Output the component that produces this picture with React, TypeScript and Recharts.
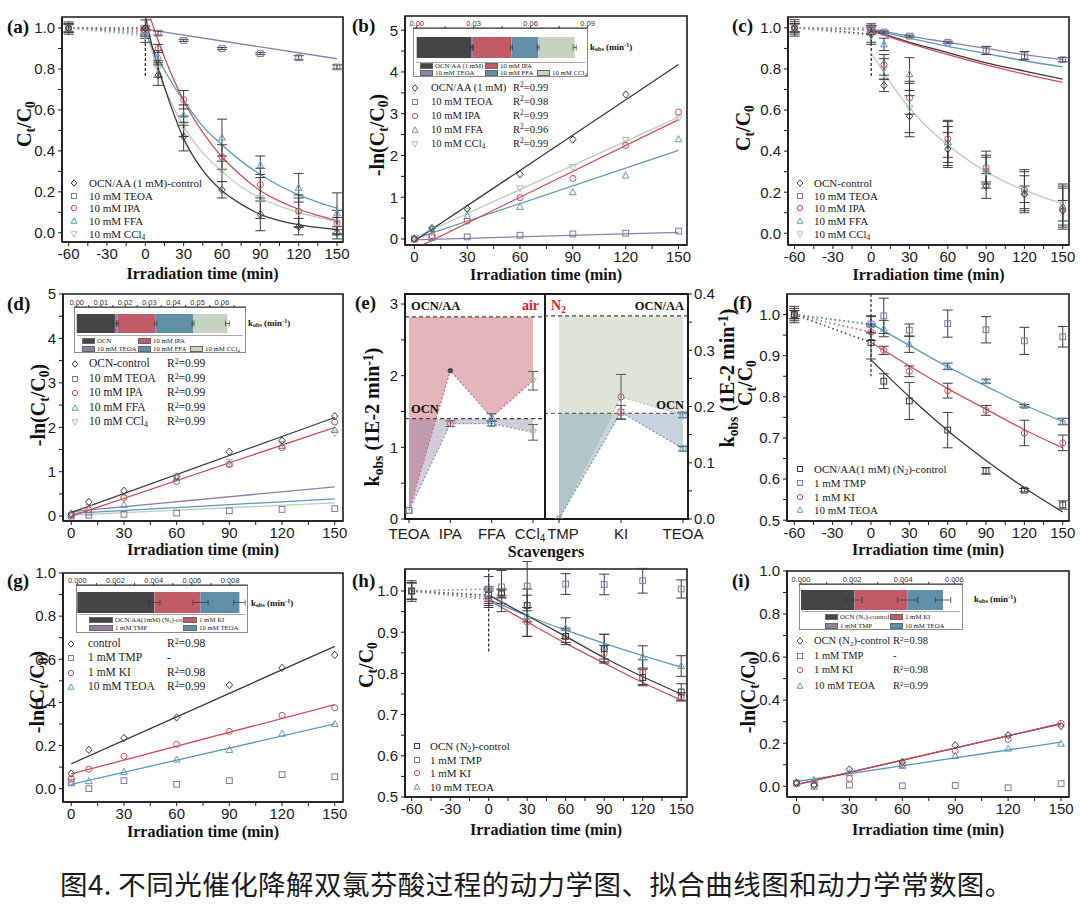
import React from 'react';
import {
  ComposedChart, Line, Scatter, XAxis, YAxis, ErrorBar, ReferenceArea,
  ReferenceLine, Area, BarChart, Bar,
} from 'recharts';

const SERIF = "'Liberation Serif','Times New Roman',serif";
const SANS = "'Liberation Sans',Arial,sans-serif";

// colours
const K = '#3a3a3a';
const PU = '#7f76a6';
const RD = '#cf4d5a';
const BL = '#5d98c0';
const GN = '#a9c2a5';
const ERR = '#3c3c3c';

// ---------- shared axis values ----------
const tFull = [-60, 0, 10, 30, 60, 90, 120, 150];
const tLin = [0, 10, 30, 60, 90, 120, 150];
const xTicksFull = [-60, -45, -30, -15, 0, 15, 30, 45, 60, 75, 90, 105, 120, 135, 150];
const xMajorFull = [-60, -30, 0, 30, 60, 90, 120, 150];
const xTicksLin = [0, 15, 30, 45, 60, 75, 90, 105, 120, 135, 150];
const xMajorLin = [0, 30, 60, 90, 120, 150];
const yTicksUnit = [0, 0.1, 0.2, 0.3, 0.4, 0.5, 0.6, 0.7, 0.8, 0.9, 1.0];
const yMajorUnit = [0, 0.2, 0.4, 0.6, 0.8, 1.0];
const yTicksHalf = [0.5, 0.55, 0.6, 0.65, 0.7, 0.75, 0.8, 0.85, 0.9, 0.95, 1.0];
const yMajorHalf = [0.5, 0.6, 0.7, 0.8, 0.9, 1.0];
const yTicksFive = [0, 0.5, 1, 1.5, 2, 2.5, 3, 3.5, 4, 4.5, 5];
const yMajorFive = [0, 1, 2, 3, 4, 5];
const linT = [0, 150];
const fit6T = [0, 30, 60, 90, 120, 150];

// ---------- panel (a) ----------
const aCtrl = [1.0, 1.0, 0.77, 0.47, 0.21, 0.09, 0.03, 0.0];
const aCtrlE = [0.03, 0.04, 0.05, 0.07, 0.04, 0.08, 0.04, 0.03];
const aTeoa = [1.0, 0.98, 0.975, 0.94, 0.9, 0.875, 0.855, 0.81];
const aTeoaE = [0.02, 0.02, 0.01, 0.005, 0.005, 0.005, 0.01, 0.01];
const aIpa = [1.0, 0.99, 0.9, 0.65, 0.37, 0.235, 0.105, 0.045];
const aIpaE = [0.02, 0.02, 0.02, 0.045, 0.06, 0.08, 0.08, 0.03];
const aFfa = [1.0, 0.97, 0.86, 0.575, 0.465, 0.33, 0.22, 0.095];
const aFfaE = [0.02, 0.02, 0.03, 0.05, 0.09, 0.045, 0.07, 0.1];
const aCcl = [1.0, 0.96, 0.8, 0.52, 0.3, 0.17, 0.1, 0.05];
const aCclE = [0.02, 0.03, 0.04, 0.05, 0.05, 0.1, 0.07, 0.06];
const aFitT = [0, 5, 10, 20, 30, 45, 60, 75, 90, 105, 120, 135, 150];
const aFitCtrl = [1.06, 0.92, 0.81, 0.62, 0.46, 0.305, 0.205, 0.14, 0.09, 0.06, 0.04, 0.026, 0.016];
const aFitIpa = [1.13, 1.03, 0.94, 0.78, 0.645, 0.49, 0.37, 0.28, 0.205, 0.155, 0.115, 0.085, 0.058];
const aFitFfa = [0.98, 0.91, 0.85, 0.74, 0.645, 0.52, 0.43, 0.35, 0.285, 0.23, 0.185, 0.15, 0.12];
const aFitCcl = [1.0, 0.89, 0.79, 0.64, 0.52, 0.39, 0.3, 0.225, 0.17, 0.13, 0.1, 0.075, 0.055];
const aFitTeoa = [0.995, 0.85];
const aVline = [1.0, 0.76];

// ---------- panel (b) ----------
const bCtrl = [0.0, 0.26, 0.73, 1.55, 2.38, 3.46];
const bTeoa = [0.0, 0.03, 0.05, 0.09, 0.12, 0.14, 0.19];
const bIpa = [0.0, 0.08, 0.43, 0.99, 1.45, 2.24, 3.04];
const bFfa = [0.0, 0.24, 0.55, 0.77, 1.12, 1.52, 2.39];
const bCcl = [0.03, 0.22, 0.67, 1.21, 1.72, 2.37, 2.89];
const bFitCtrl = [-0.05, 4.18];
const bFitTeoa = [-0.02, 0.16];
const bFitIpa = [-0.24, 2.86];
const bFitFfa = [0.0, 2.12];
const bFitCcl = [0.03, 2.92];
const bK = [0.0286, 0.001, 0.0203, 0.014, 0.0193];
const bKErr = [0.0006, 0.0003, 0.0005, 0.0005, 0.0008];
const bKTicks = [0, 0.015, 0.03, 0.045, 0.06, 0.075, 0.09];
const bKMajor = [0, 0.03, 0.06, 0.09];

// ---------- panel (c) ----------
const cCtrl = [1.0, 0.97, 0.72, 0.57, 0.41, 0.23, 0.19, 0.11];
const cCtrlE = [0.03, 0.04, 0.03, 0.1, 0.08, 0.06, 0.04, 0.05];
const cTeoa = [1.0, 1.0, 0.98, 0.96, 0.93, 0.89, 0.865, 0.845];
const cTeoaE = [0.04, 0.02, 0.005, 0.005, 0.005, 0.02, 0.02, 0.01];
const cIpa = [1.0, 0.99, 0.82, 0.66, 0.46, 0.32, 0.21, 0.12];
const cIpaE = [0.02, 0.02, 0.05, 0.08, 0.09, 0.08, 0.1, 0.1];
const cFfa = [1.0, 0.99, 0.92, 0.775, 0.445, 0.31, 0.2, 0.13];
const cFfaE = [0.02, 0.02, 0.03, 0.08, 0.1, 0.06, 0.08, 0.1];
const cCcl = [1.0, 0.96, 0.8, 0.61, 0.42, 0.3, 0.2, 0.14];
const cCclE = [0.02, 0.04, 0.05, 0.12, 0.1, 0.08, 0.1, 0.1];
const cFitCtrl = [0.99, 0.93, 0.88, 0.83, 0.79, 0.75];
const cFitIpa = [0.985, 0.925, 0.87, 0.82, 0.775, 0.735];
const cFitFfa = [0.99, 0.95, 0.91, 0.875, 0.84, 0.81];
const cFitTeoa = [0.995, 0.96, 0.93, 0.9, 0.87, 0.845];
const cFitCclT = [0, 10, 20, 30, 45, 60, 75, 90, 105, 120, 135, 150];
const cFitCcl = [0.88, 0.78, 0.69, 0.61, 0.51, 0.43, 0.36, 0.3, 0.25, 0.21, 0.175, 0.145];
const cVline = [1.0, 0.765];

// ---------- panel (d) ----------
const dCtrl = [0.05, 0.32, 0.57, 0.89, 1.45, 1.7, 2.25];
const dTeoa = [0.0, 0.02, 0.04, 0.07, 0.12, 0.15, 0.17];
const dIpa = [0.02, 0.14, 0.42, 0.78, 1.16, 1.54, 2.12];
const dFfa = [0.03, 0.08, 0.25, 0.86, 1.18, 1.58, 1.94];
const dCcl = [0.0, 0.2, 0.4, 0.88, 1.22, 1.62, 1.86];
const dFitCtrl = [0.08, 2.22];
const dFitTeoa = [0.1, 0.66];
const dFitIpa = [0.0, 2.0];
const dFitFfa = [0.06, 0.39];
const dFitCcl = [0.02, 0.3];
const dK = [0.0158, 0.0011, 0.0157, 0.0155, 0.0142];
const dKErr = [0.0006, 0.0003, 0.0005, 0.0004, 0.0008];
const dKTicks = [0, 0.005, 0.01, 0.015, 0.02, 0.025, 0.03, 0.035, 0.04, 0.045, 0.05, 0.055, 0.06, 0.065];
const dKMajor = [0, 0.01, 0.02, 0.03, 0.04, 0.05, 0.06];

// ---------- panel (e) ----------
const eAirCats = ['TEOA', 'IPA', 'FFA', 'CCl4'];
const eAirAA = [0.12, 2.07, 1.42, 1.93];
const eAirAAErr = [0, 0, 0.05, 0.13];
const eAirOCN = [0.12, 1.33, 1.33, 1.21];
const eAirOCNErr = [0, 0.04, 0.03, 0.11];
const eAirRefAA = 2.82;
const eAirRefOCN = 1.4;
const eN2Cats = ['TMP', 'KI', 'TEOA'];
const eN2AA = [0.0, 0.217, 0.185];
const eN2AAErr = [0, 0.04, 0.005];
const eN2OCN = [0.0, 0.19, 0.125];
const eN2OCNErr = [0, 0.012, 0.004];
const eN2RefAA = 0.361;
const eN2RefOCN = 0.188;
const eLeftTicks = [0, 0.5, 1, 1.5, 2, 2.5, 3];
const eLeftMajor = [0, 1, 2, 3];
const eRightTicks = [0, 0.05, 0.1, 0.15, 0.2, 0.25, 0.3, 0.35, 0.4];
const eRightMajor = [0, 0.1, 0.2, 0.3, 0.4];

// ---------- panel (f) ----------
const fCtrl = [1.0, 0.932, 0.838, 0.79, 0.719, 0.62, 0.573, 0.537];
const fCtrlE = [0.015, 0.04, 0.018, 0.045, 0.043, 0.008, 0.004, 0.01];
const fTmp = [1.0, 0.977, 0.997, 0.962, 0.978, 0.963, 0.936, 0.946];
const fTmpE = [0.02, 0.02, 0.043, 0.015, 0.033, 0.032, 0.033, 0.025];
const fKi = [1.0, 0.957, 0.913, 0.862, 0.815, 0.767, 0.712, 0.688];
const fKiE = [0.01, 0.02, 0.01, 0.013, 0.018, 0.012, 0.031, 0.019];
const fTeoa = [1.0, 0.975, 0.966, 0.928, 0.874, 0.838, 0.778, 0.74];
const fTeoaE = [0.01, 0.02, 0.02, 0.02, 0.008, 0.005, 0.003, 0.008];
const fFitCtrl = [0.89, 0.8, 0.718, 0.645, 0.579, 0.52];
const fFitKi = [0.932, 0.875, 0.82, 0.77, 0.72, 0.676];
const fFitTeoa = [0.978, 0.925, 0.873, 0.826, 0.78, 0.74];
const fVline = [1.05, 0.85];

// ---------- panel (g) ----------
const gCtrl = [0.07, 0.18, 0.235, 0.33, 0.48, 0.56, 0.62];
const gTmp = [0.03, 0.0, 0.037, 0.02, 0.037, 0.065, 0.055];
const gKi = [0.045, 0.09, 0.15, 0.205, 0.265, 0.34, 0.375];
const gTeoa = [0.025, 0.035, 0.078, 0.135, 0.18, 0.255, 0.3];
const gFitCtrl = [0.115, 0.66];
const gFitKi = [0.068, 0.39];
const gFitTeoa = [0.02, 0.3];
const gK = [0.00403, 0.00002, 0.0024, 0.00204];
const gKErr = [0.0003, 0, 0.0004, 0.0003];
const gKTicks = [0, 0.001, 0.002, 0.003, 0.004, 0.005, 0.006, 0.007, 0.008];
const gKMajor = [0, 0.002, 0.004, 0.006, 0.008];

// ---------- panel (h) ----------
const hCtrl = [1.0, 0.99, 0.995, 0.965, 0.89, 0.86, 0.79, 0.755];
const hCtrlE = [0.025, 0.02, 0.01, 0.04, 0.02, 0.035, 0.02, 0.02];
const hTmp = [1.0, 1.005, 1.01, 1.012, 1.017, 1.016, 1.025, 1.005];
const hTmpE = [0.02, 0.03, 0.04, 0.06, 0.025, 0.025, 0.03, 0.022];
const hKi = [1.0, 0.98, 0.993, 0.925, 0.89, 0.848, 0.803, 0.743];
const hKiE = [0.02, 0.02, 0.01, 0.035, 0.015, 0.02, 0.03, 0.01];
const hTeoa = [1.0, 0.985, 0.97, 0.94, 0.91, 0.865, 0.84, 0.818];
const hTeoaE = [0.02, 0.02, 0.02, 0.05, 0.025, 0.03, 0.027, 0.025];
const hFitCtrl = [0.99, 0.94, 0.89, 0.838, 0.792, 0.75];
const hFitKi = [0.978, 0.925, 0.873, 0.825, 0.778, 0.735];
const hFitTeoa = [0.98, 0.94, 0.905, 0.873, 0.843, 0.815];
const hVline = [1.055, 0.85];

// ---------- panel (i) ----------
const iCtrl = [0.015, 0.005, 0.078, 0.113, 0.19, 0.237, 0.28];
const iTmp = [0.015, 0.0, 0.006, 0.002, 0.003, -0.007, 0.012];
const iKi = [0.012, 0.01, 0.036, 0.1, 0.165, 0.218, 0.292];
const iTeoa = [0.018, 0.03, 0.062, 0.095, 0.141, 0.175, 0.198];
const iFitCtrl = [0.008, 0.29];
const iFitKi = [0.008, 0.292];
const iFitTeoa = [0.022, 0.205];
const iK = [0.00209, 0.00001, 0.00207, 0.00139];
const iKErr = [0.0003, 0, 0.0004, 0.0003];
const iKTicks = [0, 0.001, 0.002, 0.003, 0.004, 0.005, 0.006];
const iKMajor = [0, 0.002, 0.004, 0.006];

const caption = '图4. 不同光催化降解双氯芬酸过程的动力学图、拟合曲线图和动力学常数图。';

// ---------- helpers ----------
const zip = (t: number[], v: number[], e?: number[]) =>
  v.map((y, i) => ({ t: t[i], v: y, e: e ? e[i] : 0 }));
const isMaj = (arr: number[], v: number) => arr.some((m) => Math.abs(m - v) < 1e-9);

function Mk({ cx, cy, shape, color, filled, s = 3.2 }: any) {
  if (cx == null || cy == null || isNaN(cx) || isNaN(cy)) return <g />;
  const st = { stroke: color, strokeWidth: 1, fill: filled ? color : 'none' };
  if (shape === 'circle') return <circle cx={cx} cy={cy} r={s * 0.95} {...st} />;
  if (shape === 'square')
    return <rect x={cx - s * 0.9} y={cy - s * 0.9} width={s * 1.8} height={s * 1.8} {...st} />;
  if (shape === 'diamond')
    return <path d={`M${cx},${cy - s * 1.15}L${cx + s},${cy}L${cx},${cy + s * 1.15}L${cx - s},${cy}Z`} {...st} />;
  if (shape === 'triangle')
    return <path d={`M${cx},${cy - s * 1.1}L${cx + s * 1.05},${cy + s * 0.8}L${cx - s * 1.05},${cy + s * 0.8}Z`} {...st} />;
  return <path d={`M${cx},${cy + s * 1.1}L${cx + s * 1.05},${cy - s * 0.8}L${cx - s * 1.05},${cy - s * 0.8}Z`} {...st} />;
}

const Sb = ({ children }: any) => (
  <span style={{ fontSize: '0.68em', verticalAlign: '-0.28em', lineHeight: 0 }}>{children}</span>
);
const Sp = ({ children }: any) => (
  <span style={{ fontSize: '0.68em', verticalAlign: '0.45em', lineHeight: 0 }}>{children}</span>
);
const R2 = ({ v }: any) => (<span>R<Sp>2</Sp>={v}</span>);
const CtC0 = () => (<span>C<Sb>t</Sb>/C<Sb>0</Sb></span>);
const LnC = () => (<span>-ln(C<Sb>t</Sb>/C<Sb>0</Sb>)</span>);

function Txt({ x, y, children, fs = 12, bold, color = '#111', anchor = 'start', family = SERIF, rot }: any) {
  const tx = anchor === 'middle' ? '-50%' : anchor === 'end' ? '-100%' : '0';
  return (
    <div
      style={{
        position: 'absolute', left: x, top: y,
        transform: rot ? 'translate(-50%,-50%) rotate(-90deg)' : `translate(${tx},-50%)`,
        fontSize: fs, fontWeight: bold ? 700 : 400, color, fontFamily: family,
        whiteSpace: 'nowrap', lineHeight: 1,
      }}
    >
      {children}
    </div>
  );
}

function Legend({ symX, textX, r2X, rows, items, fs = 11.5 }: any) {
  return (
    <>
      {items.map((it: any, i: number) => (
        <React.Fragment key={i}>
          <svg style={{ position: 'absolute', left: symX - 6, top: rows[i] - 6 }} width={12} height={12}>
            <Mk cx={6} cy={6} shape={it.shape} color={it.color} s={2.8} />
          </svg>
          <Txt x={textX} y={rows[i]} fs={fs} color="#1a1a1a">{it.label}</Txt>
          {it.r2 ? <Txt x={r2X} y={rows[i]} fs={fs} color="#1a1a1a">{it.r2}</Txt> : null}
        </React.Fragment>
      ))}
    </>
  );
}

const ML = 60, MT = 8, MR = 14, MB = 36;
const AX = { stroke: '#1a1a1a', strokeWidth: 1.6 };
const TL = { stroke: '#1a1a1a', strokeWidth: 1 };
const TICKF = { fontSize: 15, fill: '#1a1a1a', fontFamily: SANS };

function KPanel(p: any) {
  const { box } = p;
  const w = box.R - box.L + ML + MR;
  const h = box.B - box.T + MT + MB;
  return (
    <div style={{ position: 'absolute', left: box.L - ML, top: box.T - MT }}>
      <ComposedChart width={w} height={h} margin={{ top: MT, right: MR, bottom: 0, left: 0 }}>
        <XAxis dataKey="t" type="number" domain={p.xDomain} ticks={p.xTicks} interval={0} allowDataOverflow
          height={MB} tick={TICKF} tickSize={4} tickMargin={2} axisLine={AX} tickLine={TL}
          tickFormatter={(v: number) => (isMaj(p.xMajor, v) ? String(v) : '')} />
        <YAxis type="number" domain={p.yDomain} ticks={p.yTicks} interval={0} allowDataOverflow width={ML}
          tick={TICKF} tickSize={4} tickMargin={3} axisLine={AX} tickLine={TL}
          tickFormatter={(v: number) => (isMaj(p.yMajor, v) ? v.toFixed(p.yDec) : '')} />
        <ReferenceArea x1={p.xDomain[0]} x2={p.xDomain[1]} y1={p.yDomain[0]} y2={p.yDomain[1]}
          fill="none" stroke="#1a1a1a" strokeWidth={1.6} ifOverflow="visible" />
        {(p.guides || []).map((g: any, i: number) => (
          <Line key={'g' + i} data={g.pts} dataKey="v" type="linear" stroke={g.color} strokeWidth={g.w || 1.4}
            strokeDasharray={g.dash} dot={false} activeDot={false} isAnimationActive={false} />
        ))}
        {p.fits.map((f: any, i: number) => (
          <Line key={'f' + i} data={f.pts} dataKey="v" type="monotone" stroke={f.color} strokeWidth={1.3}
            dot={false} activeDot={false} isAnimationActive={false} />
        ))}
        {p.series.map((s: any, i: number) => (
          <Scatter key={'s' + i} data={s.pts} dataKey="v" isAnimationActive={false}
            shape={(pp: any) => <Mk cx={pp.cx} cy={pp.cy} shape={s.shape} color={s.color} filled={s.filled} />}>
            {s.err ? <ErrorBar dataKey="e" direction="y" width={5} stroke={ERR} strokeWidth={1} /> : null}
          </Scatter>
        ))}
      </ComposedChart>
    </div>
  );
}

const KCOL = ['#454545', '#8d82a6', '#c25b66', '#5f8fa9', '#c5d4c1'];

function Inset(p: any) {
  const PL = 14, PR = 14, AXH = 12;
  const row: any = { name: 'k' };
  p.vals.forEach((v: number, i: number) => {
    row['s' + i] = v;
    row['e' + i] = p.errs[i];
  });
  const w = p.R - p.L + PL + PR;
  const h = p.barB - p.T + AXH;
  return (
    <>
      <div style={{ position: 'absolute', left: p.L, top: p.T, width: p.R - p.L, height: p.legB - p.T,
        border: '1px solid #8a8a8a', boxSizing: 'border-box', background: '#fff' }} />
      <div style={{ position: 'absolute', left: p.L + 3, top: p.barB, width: p.R - p.L - 6, height: p.legB - p.barB - 1,
        borderTop: '1px solid #aaa', boxSizing: 'border-box' }} />
      <div style={{ position: 'absolute', left: p.L - PL, top: p.T - AXH }}>
        <BarChart layout="vertical" width={w} height={h} data={[row]}
          margin={{ top: 0, right: PR, bottom: 0, left: PL }} barCategoryGap={0}>
          <XAxis type="number" orientation="top" domain={p.domain} ticks={p.ticks} interval={0} allowDataOverflow
            height={AXH} tickSize={2} tickMargin={0} axisLine={{ stroke: '#333' }} tickLine={{ stroke: '#333' }}
            tick={{ fontSize: 7.5, fill: '#333', fontFamily: SANS }}
            tickFormatter={(v: number) => (isMaj(p.major, v) ? v.toFixed(p.dec) : '')} />
          <YAxis type="category" dataKey="name" hide padding={{ top: 5, bottom: 0 }} />
          {p.vals.map((_: number, i: number) => (
            <Bar key={i} dataKey={'s' + i} stackId="k" fill={KCOL[p.colors[i]]} barSize={p.barSize}
              isAnimationActive={false}>
              {p.errs[i] ? (
                <ErrorBar dataKey={'e' + i} direction="x" width={3} stroke="#333" strokeWidth={0.7} />
              ) : null}
            </Bar>
          ))}
        </BarChart>
      </div>
      {p.leg.map((l: any, i: number) => (
        <React.Fragment key={i}>
          <div style={{ position: 'absolute', left: l.x, top: p.legRows[l.r] - 3, width: l.w || 13, height: 6,
            background: KCOL[p.colors[l.i]], border: '0.5px solid #666', boxSizing: 'border-box' }} />
          <Txt x={l.x + (l.w || 13) + 2} y={p.legRows[l.r]} fs={6.8} color="#222">{p.names[l.i]}</Txt>
        </React.Fragment>
      ))}
      <Txt x={p.kx} y={p.ky} fs={9} bold color="#111">k<Sb>obs</Sb> (min<Sp>-1</Sp>)</Txt>
    </>
  );
}

// category tick for panel (e): subscript digits and small offsets so CCl4 and TMP sit side by side
function CatTick(names: string[], shifts: number[]) {
  return (props: any) => {
    const { x, y, payload } = props;
    const name = names[payload.value] ?? '';
    const m = name.match(/^(.*?)(\d)$/);
    return (
      <text x={x + (shifts[payload.value] || 0)} y={y + 3} dy="0.75em" textAnchor="middle" fontSize={15}
        fontFamily={SANS} fill="#1a1a1a">
        {m ? (<>{m[1]}<tspan fontSize={10} dy={3}>{m[2]}</tspan></>) : name}
      </text>
    );
  };
}

function EPanel() {
  const Lb = { L: 405, T: 294, R: 545, B: 519 };
  const Rb = { L: 545, T: 294, R: 688, B: 519 };
  const lDom: [number, number] = [-0.097, 3.29];
  const rDom: [number, number] = [-0.226, 2.081];
  const lY: [number, number] = [0, 3.14];
  const rY: [number, number] = [0, 0.4];
  const leftRows = eAirCats.map((_, i) => ({
    t: i, aa: eAirAA[i], ocn: eAirOCN[i],
    aaR: [eAirAA[i], eAirRefAA], ocnR: [eAirOCN[i], eAirRefOCN],
  }));
  const rightRows = eN2Cats.map((_, i) => ({
    t: i, aa: eN2AA[i], ocn: eN2OCN[i],
    aaR: [eN2AA[i], eN2RefAA], ocnR: [eN2OCN[i], eN2RefOCN],
  }));
  const lAAPts = eAirAA.map((v, i) => ({ t: i, v, e: eAirAAErr[i], k: i }));
  const lOCNPts = eAirOCN.map((v, i) => ({ t: i, v, e: eAirOCNErr[i], k: i }));
  const rAAPts = eN2AA.map((v, i) => ({ t: i, v, e: eN2AAErr[i], k: i }));
  const rOCNPts = eN2OCN.map((v, i) => ({ t: i, v, e: eN2OCNErr[i], k: i }));
  const lAAStyle = [
    { shape: 'square', color: PU }, { shape: 'circle', color: '#4a4a4a', filled: true, s: 2.4 },
    { shape: 'triangle', color: BL }, { shape: 'down', color: '#a3b59f' },
  ];
  const lOCNStyle = [
    { shape: 'square', color: PU }, { shape: 'circle', color: RD },
    { shape: 'square', color: BL }, { shape: 'down', color: '#a3b59f' },
  ];
  const rAAStyle = [{ shape: 'circle', color: '#b88aa0' }, { shape: 'circle', color: RD }, { shape: 'square', color: BL }];
  const rOCNStyle = [{ shape: 'circle', color: '#b88aa0' }, { shape: 'square', color: RD }, { shape: 'square', color: BL }];
  const mk = (st: any[]) => (pp: any) => {
    const s = st[pp.payload ? pp.payload.k : 0];
    return <Mk cx={pp.cx} cy={pp.cy} shape={s.shape} color={s.color} filled={s.filled} s={s.s || 3.2} />;
  };
  const lw = Lb.R - Lb.L + ML + MR;
  const h = Lb.B - Lb.T + MT + MB;
  const RPL = 20, RYW = 40, RPR = 4;
  const rw = RPL + (Rb.R - Rb.L) + RYW + RPR;
  const dash = '4 3';
  return (
    <>
      <div style={{ position: 'absolute', left: Lb.L - ML, top: Lb.T - MT }}>
        <ComposedChart width={lw} height={h} data={leftRows} margin={{ top: MT, right: MR, bottom: 0, left: 0 }}>
          <XAxis dataKey="t" type="number" domain={lDom} ticks={[0, 1, 2, 3]} interval={0} allowDataOverflow
            height={MB} tickSize={4} tickMargin={2} axisLine={AX} tickLine={TL}
            tick={CatTick(eAirCats, [0, 0, 0, -3])} />
          <YAxis type="number" domain={lY} ticks={eLeftTicks} interval={0} allowDataOverflow width={ML}
            tick={TICKF} tickSize={4} tickMargin={3} axisLine={AX} tickLine={TL}
            tickFormatter={(v: number) => (isMaj(eLeftMajor, v) ? String(v) : '')} />
          <Area dataKey="aaR" type="linear" fill="#c45a69" fillOpacity={0.45} stroke="none" isAnimationActive={false} />
          <Area dataKey="ocnR" type="linear" fill="#7c7099" fillOpacity={0.35} stroke="none" isAnimationActive={false} />
          <ReferenceLine y={eAirRefAA} stroke="#444" strokeDasharray={dash} strokeWidth={1.2} />
          <ReferenceLine y={eAirRefOCN} stroke="#444" strokeDasharray={dash} strokeWidth={1.2} />
          <Line dataKey="aa" type="linear" stroke="#d46a78" strokeDasharray="2 2" strokeWidth={1.2} dot={false}
            activeDot={false} isAnimationActive={false} />
          <Line dataKey="ocn" type="linear" stroke="#8793bd" strokeDasharray="2 2" strokeWidth={1.2} dot={false}
            activeDot={false} isAnimationActive={false} />
          <Scatter data={lAAPts} dataKey="v" isAnimationActive={false} shape={mk(lAAStyle)}>
            <ErrorBar dataKey="e" direction="y" width={5} stroke="#555" strokeWidth={1} />
          </Scatter>
          <Scatter data={lOCNPts} dataKey="v" isAnimationActive={false} shape={mk(lOCNStyle)}>
            <ErrorBar dataKey="e" direction="y" width={5} stroke="#555" strokeWidth={1} />
          </Scatter>
          <ReferenceArea x1={lDom[0]} x2={lDom[1]} y1={lY[0]} y2={lY[1]} fill="none" stroke="#1a1a1a"
            strokeWidth={1.8} ifOverflow="visible" />
        </ComposedChart>
      </div>
      <div style={{ position: 'absolute', left: Rb.L - RPL, top: Rb.T - MT }}>
        <ComposedChart width={rw} height={h} data={rightRows} margin={{ top: MT, right: RPR, bottom: 0, left: RPL }}>
          <XAxis dataKey="t" type="number" domain={rDom} ticks={[0, 1, 2]} interval={0} allowDataOverflow
            height={MB} tickSize={4} tickMargin={2} axisLine={AX} tickLine={TL}
            tick={CatTick(eN2Cats, [4, 0, 0])} />
          <YAxis orientation="right" type="number" domain={rY} ticks={eRightTicks} interval={0} allowDataOverflow
            width={RYW} tick={TICKF} tickSize={4} tickMargin={2} axisLine={AX} tickLine={TL}
            tickFormatter={(v: number) => (isMaj(eRightMajor, v) ? v.toFixed(1) : '')} />
          <Area dataKey="aaR" type="linear" fill="#b3c6ae" fillOpacity={0.45} stroke="none" isAnimationActive={false} />
          <Area dataKey="ocnR" type="linear" fill="#7fa0b4" fillOpacity={0.45} stroke="none" isAnimationActive={false} />
          <ReferenceLine y={eN2RefAA} stroke="#444" strokeDasharray={dash} strokeWidth={1.2} />
          <ReferenceLine y={eN2RefOCN} stroke="#444" strokeDasharray={dash} strokeWidth={1.2} />
          <Line dataKey="aa" type="linear" stroke="#a9bfa3" strokeDasharray="2 2" strokeWidth={1.2} dot={false}
            activeDot={false} isAnimationActive={false} />
          <Line dataKey="ocn" type="linear" stroke="#6f98b8" strokeDasharray="2 2" strokeWidth={1.2} dot={false}
            activeDot={false} isAnimationActive={false} />
          <Scatter data={rAAPts} dataKey="v" isAnimationActive={false} shape={mk(rAAStyle)}>
            <ErrorBar dataKey="e" direction="y" width={5} stroke="#555" strokeWidth={1} />
          </Scatter>
          <Scatter data={rOCNPts} dataKey="v" isAnimationActive={false} shape={mk(rOCNStyle)}>
            <ErrorBar dataKey="e" direction="y" width={5} stroke="#555" strokeWidth={1} />
          </Scatter>
          <ReferenceArea x1={rDom[0]} x2={rDom[1]} y1={rY[0]} y2={rY[1]} fill="none" stroke="#1a1a1a"
            strokeWidth={1.8} ifOverflow="visible" />
        </ComposedChart>
      </div>
      <Txt x={411} y={306} fs={12.5} bold>OCN/AA</Txt>
      <Txt x={539} y={306} fs={14} bold color="#e0202a" anchor="end">air</Txt>
      <Txt x={411} y={409} fs={12.5} bold>OCN</Txt>
      <Txt x={551} y={306} fs={14} bold color="#e0202a">N<Sb>2</Sb></Txt>
      <Txt x={684} y={306} fs={12.5} bold anchor="end">OCN/AA</Txt>
      <Txt x={684} y={405} fs={12.5} bold anchor="end">OCN</Txt>
      <Txt x={372} y={417} fs={20} bold rot>k<Sb>obs</Sb> (1E-2 min<Sp>-1</Sp>)</Txt>
      <Txt x={546} y={552} fs={16} bold anchor="middle">Scavengers</Txt>
      <Txt x={355} y={302} fs={19} bold>(e)</Txt>
    </>
  );
}

export default function App() {
  const boxA = { L: 62, T: 17, R: 343, B: 242 };
  const boxB = { L: 405, T: 16, R: 687, B: 245 };
  const boxC = { L: 788, T: 17, R: 1069, B: 245 };
  const boxD = { L: 63, T: 294, R: 343, B: 521 };
  const boxF = { L: 787, T: 294, R: 1069, B: 521 };
  const boxG = { L: 63, T: 573, R: 343, B: 802 };
  const boxH = { L: 405, T: 569, R: 687, B: 797 };
  const boxI = { L: 787, T: 571, R: 1069, B: 797 };

  const pre = (pts: any[], color: string) => ({ pts: pts.slice(0, 2), color, dash: '1.5 3', w: 1.5 });
  const vl = (v: number[]) => ({ pts: [{ t: 0, v: v[0] }, { t: 0, v: v[1] }], color: '#222', dash: '3 2', w: 1.2 });

  const aS = {
    ctrl: zip(tFull, aCtrl, aCtrlE), teoa: zip(tFull, aTeoa, aTeoaE), ipa: zip(tFull, aIpa, aIpaE),
    ffa: zip(tFull, aFfa, aFfaE), ccl: zip(tFull, aCcl, aCclE),
  };
  const cS = {
    ctrl: zip(tFull, cCtrl, cCtrlE), teoa: zip(tFull, cTeoa, cTeoaE), ipa: zip(tFull, cIpa, cIpaE),
    ffa: zip(tFull, cFfa, cFfaE), ccl: zip(tFull, cCcl, cCclE),
  };
  const fS = { ctrl: zip(tFull, fCtrl, fCtrlE), tmp: zip(tFull, fTmp, fTmpE), ki: zip(tFull, fKi, fKiE), teoa: zip(tFull, fTeoa, fTeoaE) };
  const hS = { ctrl: zip(tFull, hCtrl, hCtrlE), tmp: zip(tFull, hTmp, hTmpE), ki: zip(tFull, hKi, hKiE), teoa: zip(tFull, hTeoa, hTeoaE) };

  const legA = [
    { shape: 'diamond', color: K, label: 'OCN/AA (1 mM)-control' },
    { shape: 'square', color: PU, label: '10 mM TEOA' },
    { shape: 'circle', color: RD, label: '10 mM IPA' },
    { shape: 'triangle', color: BL, label: '10 mM FFA' },
    { shape: 'down', color: GN, label: <span>10 mM CCl<Sb>4</Sb></span> },
  ];
  const legB = [
    { shape: 'diamond', color: K, label: 'OCN/AA (1 mM)', r2: <R2 v="0.99" /> },
    { shape: 'square', color: PU, label: '10 mM TEOA', r2: <R2 v="0.98" /> },
    { shape: 'circle', color: RD, label: '10 mM IPA', r2: <R2 v="0.99" /> },
    { shape: 'triangle', color: BL, label: '10 mM FFA', r2: <R2 v="0.96" /> },
    { shape: 'down', color: GN, label: <span>10 mM CCl<Sb>4</Sb></span>, r2: <R2 v="0.99" /> },
  ];
  const legC = [
    { shape: 'diamond', color: K, label: 'OCN-control' },
    { shape: 'square', color: PU, label: '10 mM TEOA' },
    { shape: 'circle', color: RD, label: '10 mM IPA' },
    { shape: 'triangle', color: BL, label: '10 mM FFA' },
    { shape: 'down', color: GN, label: <span>10 mM CCl<Sb>4</Sb></span> },
  ];
  const legD = [
    { shape: 'diamond', color: K, label: 'OCN-control', r2: <R2 v="0.99" /> },
    { shape: 'square', color: PU, label: '10 mM TEOA', r2: <R2 v="0.99" /> },
    { shape: 'circle', color: RD, label: '10 mM IPA', r2: <R2 v="0.99" /> },
    { shape: 'triangle', color: BL, label: '10 mM FFA', r2: <R2 v="0.99" /> },
    { shape: 'down', color: GN, label: <span>10 mM CCl<Sb>4</Sb></span>, r2: <R2 v="0.99" /> },
  ];
  const legF = [
    { shape: 'square', color: K, label: <span>OCN/AA(1 mM) (N<Sb>2</Sb>)-control</span> },
    { shape: 'square', color: PU, label: '1 mM TMP' },
    { shape: 'circle', color: RD, label: '1 mM KI' },
    { shape: 'triangle', color: BL, label: '10 mM TEOA' },
  ];
  const legG = [
    { shape: 'diamond', color: K, label: 'control', r2: <R2 v="0.98" /> },
    { shape: 'square', color: PU, label: '1 mM TMP', r2: '-' },
    { shape: 'circle', color: RD, label: '1 mM KI', r2: <R2 v="0.98" /> },
    { shape: 'triangle', color: BL, label: '10 mM TEOA', r2: <R2 v="0.99" /> },
  ];
  const legH = [
    { shape: 'square', color: K, label: <span>OCN (N<Sb>2</Sb>)-control</span> },
    { shape: 'square', color: PU, label: '1 mM TMP' },
    { shape: 'circle', color: RD, label: '1 mM KI' },
    { shape: 'triangle', color: BL, label: '10 mM TEOA' },
  ];
  const legI = [
    { shape: 'diamond', color: K, label: <span>OCN (N<Sb>2</Sb>)-control</span>, r2: <R2 v="0.98" /> },
    { shape: 'square', color: PU, label: '1 mM TMP', r2: '-' },
    { shape: 'circle', color: RD, label: '1 mM KI', r2: <R2 v="0.98" /> },
    { shape: 'triangle', color: BL, label: '10 mM TEOA', r2: <R2 v="0.99" /> },
  ];

  const xTitle = 'Irradiation time (min)';
  const cx = (b: any) => (b.L + b.R) / 2;

  return (
    <div style={{ position: 'absolute', left: 0, top: 0, width: 1080, height: 920, background: '#fff', overflow: 'hidden' }}>
      {/* (a) */}
      <KPanel box={boxA} xDomain={[-65.2, 154.7]} xTicks={xTicksFull} xMajor={xMajorFull}
        yDomain={[-0.045, 1.054]} yTicks={yTicksUnit} yMajor={yMajorUnit} yDec={1}
        guides={[pre(aS.ctrl, K), pre(aS.teoa, PU), pre(aS.ipa, RD), pre(aS.ffa, BL), pre(aS.ccl, GN), vl(aVline)]}
        fits={[
          { pts: zip(linT, aFitTeoa), color: '#8a80b0' },
          { pts: zip(aFitT, aFitCcl), color: '#b9cfb5' },
          { pts: zip(aFitT, aFitFfa), color: BL },
          { pts: zip(aFitT, aFitIpa), color: RD },
          { pts: zip(aFitT, aFitCtrl), color: K },
        ]}
        series={[
          { pts: aS.teoa, shape: 'square', color: PU, err: true },
          { pts: aS.ccl, shape: 'down', color: GN, err: true },
          { pts: aS.ffa, shape: 'triangle', color: BL, err: true },
          { pts: aS.ipa, shape: 'circle', color: RD, err: true },
          { pts: aS.ctrl, shape: 'diamond', color: K, err: true },
        ]} />
      <Legend symX={74} textX={89} rows={[182.7, 195.7, 208.3, 220.7, 234.3]} items={legA} fs={11} />
      <Txt x={24} y={124} fs={20} bold rot><CtC0 /></Txt>
      <Txt x={cx(boxA)} y={274} fs={16} bold anchor="middle">{xTitle}</Txt>
      <Txt x={7} y={26} fs={19} bold>(a)</Txt>

      {/* (b) */}
      <KPanel box={boxB} xDomain={[-5.3, 154.8]} xTicks={xTicksLin} xMajor={xMajorLin}
        yDomain={[-0.144, 5.34]} yTicks={yTicksFive} yMajor={yMajorFive} yDec={0}
        fits={[
          { pts: zip(linT, bFitTeoa), color: '#8a80b0' },
          { pts: zip(linT, bFitFfa), color: BL },
          { pts: zip(linT, bFitIpa), color: RD },
          { pts: zip(linT, bFitCcl), color: '#b9cfb5' },
          { pts: zip(linT, bFitCtrl), color: K },
        ]}
        series={[
          { pts: zip(tLin, bTeoa), shape: 'square', color: PU },
          { pts: zip(tLin, bCcl), shape: 'down', color: GN },
          { pts: zip(tLin, bFfa), shape: 'triangle', color: BL },
          { pts: zip(tLin, bIpa), shape: 'circle', color: RD },
          { pts: zip(tLin, bCtrl), shape: 'diamond', color: K },
        ]} />
      <Inset L={413} R={588} T={28} barB={62} legB={77} domain={[-0.00195, 0.0902]} ticks={bKTicks} major={bKMajor}
        dec={2} vals={bK} errs={bKErr} colors={[0, 1, 2, 3, 4]} barSize={21}
        names={['OCN/AA (1 mM)', '10 mM TEOA', '10 mM IPA', '10 mM FFA', <span>10 mM CCl<Sb>4</Sb></span>]}
        legRows={[65.5, 72.5]}
        leg={[{ i: 0, x: 420, r: 0 }, { i: 2, x: 485, r: 0 }, { i: 1, x: 420, r: 1 }, { i: 3, x: 485, r: 1 }, { i: 4, x: 537, r: 1 }]}
        kx={590} ky={47} />
      <Legend symX={415} textX={431} r2X={513} rows={[87.7, 101.7, 115.7, 130, 144.3]} items={legB} fs={10.6} />
      <Txt x={377} y={135} fs={20} bold rot><LnC /></Txt>
      <Txt x={cx(boxB)} y={275} fs={16} bold anchor="middle">{xTitle}</Txt>
      <Txt x={352} y={25} fs={19} bold>(b)</Txt>

      {/* (c) */}
      <KPanel box={boxC} xDomain={[-65.2, 154.9]} xTicks={xTicksFull} xMajor={xMajorFull}
        yDomain={[-0.057, 1.053]} yTicks={yTicksUnit} yMajor={yMajorUnit} yDec={1}
        guides={[pre(cS.ctrl, K), pre(cS.teoa, PU), pre(cS.ipa, RD), pre(cS.ffa, BL), pre(cS.ccl, GN), vl(cVline)]}
        fits={[
          { pts: zip(cFitCclT, cFitCcl), color: '#b9cfb5' },
          { pts: zip(fit6T, cFitTeoa), color: '#8a80b0' },
          { pts: zip(fit6T, cFitFfa), color: BL },
          { pts: zip(fit6T, cFitCtrl), color: K },
          { pts: zip(fit6T, cFitIpa), color: RD },
        ]}
        series={[
          { pts: cS.teoa, shape: 'square', color: PU, err: true },
          { pts: cS.ccl, shape: 'down', color: GN, err: true },
          { pts: cS.ffa, shape: 'triangle', color: BL, err: true },
          { pts: cS.ipa, shape: 'circle', color: RD, err: true },
          { pts: cS.ctrl, shape: 'diamond', color: K, err: true },
        ]} />
      <Legend symX={800} textX={814} rows={[182.7, 195.7, 208.3, 220.7, 234.3]} items={legC} fs={11} />
      <Txt x={743} y={128} fs={20} bold rot><CtC0 /></Txt>
      <Txt x={cx(boxC)} y={275} fs={16} bold anchor="middle">{xTitle}</Txt>
      <Txt x={732} y={25} fs={19} bold>(c)</Txt>

      {/* (d) */}
      <KPanel box={boxD} xDomain={[-4.7, 154.7]} xTicks={xTicksLin} xMajor={xMajorLin}
        yDomain={[-0.11, 5.0]} yTicks={yTicksFive} yMajor={yMajorFive} yDec={0}
        fits={[
          { pts: zip(linT, dFitCcl), color: '#b9cfb5' },
          { pts: zip(linT, dFitFfa), color: BL },
          { pts: zip(linT, dFitTeoa), color: '#8a80b0' },
          { pts: zip(linT, dFitIpa), color: RD },
          { pts: zip(linT, dFitCtrl), color: K },
        ]}
        series={[
          { pts: zip(tLin, dTeoa), shape: 'square', color: PU },
          { pts: zip(tLin, dCcl), shape: 'down', color: GN },
          { pts: zip(tLin, dFfa), shape: 'triangle', color: BL },
          { pts: zip(tLin, dIpa), shape: 'circle', color: RD },
          { pts: zip(tLin, dCtrl), shape: 'diamond', color: K },
        ]} />
      <Inset L={74} R={246} T={307} barB={335} legB={353} domain={[-0.00112, 0.07]} ticks={dKTicks} major={dKMajor}
        dec={2} vals={dK} errs={dKErr} colors={[0, 1, 2, 3, 4]} barSize={19}
        names={['OCN', '10 mM TEOA', '10 mM IPA', '10 mM FFA', <span>10 mM CCl<Sb>4</Sb></span>]}
        legRows={[340.7, 349]}
        leg={[{ i: 0, x: 82, r: 0 }, { i: 2, x: 138, r: 0 }, { i: 1, x: 82, r: 1 }, { i: 3, x: 138, r: 1 }, { i: 4, x: 190, r: 1 }]}
        kx={248} ky={323} />
      <Legend symX={75} textX={89} r2X={167} rows={[364.3, 378.7, 393.3, 407.7, 422.3]} items={legD} fs={11.5} />
      <Txt x={38} y={405} fs={20} bold rot><LnC /></Txt>
      <Txt x={cx(boxD)} y={550} fs={16} bold anchor="middle">{xTitle}</Txt>
      <Txt x={7} y={303} fs={19} bold>(d)</Txt>

      {/* (e) */}
      <EPanel />

      {/* (f) */}
      <KPanel box={boxF} xDomain={[-65.7, 154.9]} xTicks={xTicksFull} xMajor={xMajorFull}
        yDomain={[0.498, 1.05]} yTicks={yTicksHalf} yMajor={yMajorHalf} yDec={1}
        guides={[pre(fS.ctrl, K), pre(fS.tmp, PU), pre(fS.ki, RD), pre(fS.teoa, BL), vl(fVline)]}
        fits={[
          { pts: zip(fit6T, fFitCtrl), color: K },
          { pts: zip(fit6T, fFitKi), color: RD },
          { pts: zip(fit6T, fFitTeoa), color: BL },
        ]}
        series={[
          { pts: fS.tmp, shape: 'square', color: PU, err: true },
          { pts: fS.teoa, shape: 'triangle', color: BL, err: true },
          { pts: fS.ki, shape: 'circle', color: RD, err: true },
          { pts: fS.ctrl, shape: 'square', color: K, err: true },
        ]} />
      <Legend symX={800} textX={814} rows={[469, 482.7, 496.7, 510]} items={legF} fs={11} />
      <Txt x={727} y={378} fs={20} bold rot>k<Sb>obs</Sb> (1E-2 min<Sp>-1</Sp>)</Txt>
      <Txt x={745} y={383} fs={20} bold rot><CtC0 /></Txt>
      <Txt x={cx(boxF)} y={550} fs={16} bold anchor="middle">{xTitle}</Txt>
      <Txt x={733} y={302} fs={19} bold>(f)</Txt>

      {/* (g) */}
      <KPanel box={boxG} xDomain={[-4.7, 154.7]} xTicks={xTicksLin} xMajor={xMajorLin}
        yDomain={[-0.062, 1.0]} yTicks={yTicksUnit} yMajor={yMajorUnit} yDec={1}
        fits={[
          { pts: zip(linT, gFitTeoa), color: BL },
          { pts: zip(linT, gFitKi), color: RD },
          { pts: zip(linT, gFitCtrl), color: K },
        ]}
        series={[
          { pts: zip(tLin, gTmp), shape: 'square', color: PU },
          { pts: zip(tLin, gTeoa), shape: 'triangle', color: BL },
          { pts: zip(tLin, gKi), shape: 'circle', color: RD },
          { pts: zip(tLin, gCtrl), shape: 'diamond', color: K },
        ]} />
      <Inset L={76} R={248} T={585} barB={614} legB={633} domain={[-0.000068, 0.00894]} ticks={gKTicks} major={gKMajor}
        dec={3} vals={gK} errs={gKErr} colors={[0, 1, 2, 3]} barSize={21}
        names={[<span>OCN/AA(1mM) (N<Sb>2</Sb>)-control</span>, '1 mM TMP', '1 mM KI', '10 mM TEOA']}
        legRows={[619.5, 628]}
        leg={[{ i: 0, x: 89, w: 24, r: 0 }, { i: 2, x: 183, w: 14, r: 0 }, { i: 1, x: 89, w: 24, r: 1 }, { i: 3, x: 183, w: 14, r: 1 }]}
        kx={251} ky={603} />
      <Legend symX={71} textX={88} r2X={167} rows={[644, 658.3, 672.7, 687]} items={legG} fs={11.5} />
      <Txt x={37} y={692} fs={20} bold rot><LnC /></Txt>
      <Txt x={cx(boxG)} y={832} fs={16} bold anchor="middle">{xTitle}</Txt>
      <Txt x={7} y={580} fs={19} bold>(g)</Txt>

      {/* (h) */}
      <KPanel box={boxH} xDomain={[-65.2, 154.5]} xTicks={xTicksFull} xMajor={xMajorFull}
        yDomain={[0.5, 1.0535]} yTicks={yTicksHalf} yMajor={yMajorHalf} yDec={1}
        guides={[pre(hS.ctrl, K), pre(hS.tmp, PU), pre(hS.ki, RD), pre(hS.teoa, BL), vl(hVline)]}
        fits={[
          { pts: zip(fit6T, hFitTeoa), color: BL },
          { pts: zip(fit6T, hFitKi), color: RD },
          { pts: zip(fit6T, hFitCtrl), color: K },
        ]}
        series={[
          { pts: hS.tmp, shape: 'square', color: PU, err: true },
          { pts: hS.teoa, shape: 'triangle', color: BL, err: true },
          { pts: hS.ki, shape: 'circle', color: RD, err: true },
          { pts: hS.ctrl, shape: 'square', color: K, err: true },
        ]} />
      <Legend symX={417} textX={430} rows={[746, 760, 773.3, 786.7]} items={legH} fs={11} />
      <Txt x={366} y={665} fs={20} bold rot><CtC0 /></Txt>
      <Txt x={cx(boxH)} y={830} fs={16} bold anchor="middle">{xTitle}</Txt>
      <Txt x={352} y={580} fs={19} bold>(h)</Txt>

      {/* (i) */}
      <KPanel box={boxI} xDomain={[-5.4, 154.5]} xTicks={xTicksLin} xMajor={xMajorLin}
        yDomain={[-0.05, 1.0]} yTicks={yTicksUnit} yMajor={yMajorUnit} yDec={1}
        fits={[
          { pts: zip(linT, iFitTeoa), color: BL },
          { pts: zip(linT, iFitCtrl), color: K },
          { pts: zip(linT, iFitKi), color: RD },
        ]}
        series={[
          { pts: zip(tLin, iTmp), shape: 'square', color: PU },
          { pts: zip(tLin, iTeoa), shape: 'triangle', color: BL },
          { pts: zip(tLin, iKi), shape: 'circle', color: RD },
          { pts: zip(tLin, iCtrl), shape: 'diamond', color: K },
        ]} />
      <Inset L={799} R={963} T={584} barB={611} legB={630} domain={[-0.000078, 0.00634]} ticks={iKTicks} major={iKMajor}
        dec={3} vals={iK} errs={iKErr} colors={[0, 1, 2, 3]} barSize={20}
        names={[<span>OCN (N<Sb>2</Sb>)-control</span>, '1 mM TMP', '1 mM KI', '10 mM TEOA']}
        legRows={[617, 626]}
        leg={[{ i: 0, x: 825, r: 0 }, { i: 2, x: 890, r: 0 }, { i: 1, x: 825, r: 1 }, { i: 3, x: 890, r: 1 }]}
        kx={974} ky={599} />
      <Legend symX={800} textX={814} r2X={893} rows={[641, 655.7, 670.3, 685.7]} items={legI} fs={10.5} />
      <Txt x={748} y={692} fs={20} bold rot><LnC /></Txt>
      <Txt x={cx(boxI)} y={830} fs={16} bold anchor="middle">{xTitle}</Txt>
      <Txt x={732} y={580} fs={19} bold>(i)</Txt>

      {/* caption */}
      <div style={{ position: 'absolute', left: 60, top: 870, fontSize: 27.5, lineHeight: 1, letterSpacing: 0.45,
        fontFamily: "'Noto Sans CJK SC', sans-serif", color: '#1a1a1a', whiteSpace: 'nowrap' }}>{caption}</div>
    </div>
  );
}
